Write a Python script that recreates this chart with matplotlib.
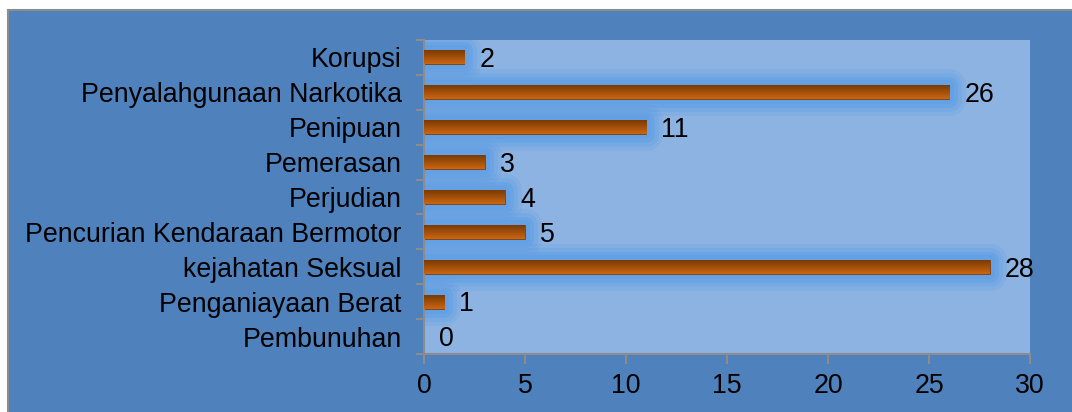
import numpy as np
import matplotlib
matplotlib.use('Agg')
from matplotlib import pyplot as plt
from matplotlib.patches import Rectangle

categories = ['Pembunuhan', 'Penganiayaan Berat', 'kejahatan Seksual',
              'Pencurian Kendaraan Bermotor', 'Perjudian', 'Pemerasan',
              'Penipuan', 'Penyalahgunaan Narkotika', 'Korupsi']
values = [0, 1, 28, 5, 4, 3, 11, 26, 2]
xticks = [0, 5, 10, 15, 20, 25, 30]

plt.rcParams['font.family'] = ['Liberation Sans', 'DejaVu Sans']
fs = 19.3

W, H = 1072, 412
fig = plt.figure(figsize=(W / 100, H / 100), dpi=100)
fig.patch.set_facecolor('white')

# outer blue panel with grey border (runs off right and bottom)
fig.patches.append(Rectangle((8 / W, -0.1), 1.2, 0.1 + (H - 10) / H, transform=fig.transFigure,
                             facecolor='#4F81BD', edgecolor='#8C8C8C', linewidth=1.5,
                             zorder=-10))

ax = fig.add_axes([424 / W, (H - 354) / H, (1030 - 424) / W, (354 - 40) / H])
ax.set_facecolor('#8DB3E2')

y = np.arange(len(categories))
vals = np.array(values)
bh = 0.4

# glow behind bars
nz = vals > 0
for lw, a in [(24, 0.2), (18, 0.3), (12, 0.45), (7, 0.6)]:
    ax.barh(y[nz], vals[nz], height=bh, color='none', edgecolor='#5E9EE5', linewidth=lw,
            alpha=a, joinstyle='round', zorder=1)

bars = ax.barh(y, vals, height=bh, color='#A04A08', edgecolor='#7F3F10',
               linewidth=0.6, zorder=2)

grad = np.linspace(0, 1, 64).reshape(-1, 1)
cmap = matplotlib.colors.LinearSegmentedColormap.from_list('g', ['#CC6612', '#7A3A04'])
for b in bars:
    if b.get_width() <= 0:
        b.set_visible(False)
        continue
    x0, y0 = b.get_x(), b.get_y()
    im = ax.imshow(grad, cmap=cmap, aspect='auto', origin='lower',
                   extent=[x0, x0 + b.get_width(), y0, y0 + b.get_height()], zorder=3)
    im.set_clip_path(b)

for yi, v in zip(y, values):
    ax.annotate(str(v), (v, yi), xytext=(11, -2), textcoords='offset points',
                ha='left', va='center', fontsize=fs, color='black', zorder=5)

ax.set_xlim(0, 30)
ax.set_ylim(-0.5, len(categories) - 0.5)
ax.set_xticks(xticks)
ax.set_yticks(y)
ax.set_yticklabels(categories)
ax.set_yticks(np.arange(-0.5, len(categories), 1), minor=True)
ax.tick_params(axis='y', which='major', length=0, pad=16, labelsize=fs)
ax.tick_params(axis='y', which='minor', length=6, width=1.5, color='#8C8C8C')
ax.tick_params(axis='x', length=7, width=1.5, color='#8C8C8C', pad=7, labelsize=fs)

for s in ['top', 'right']:
    ax.spines[s].set_visible(False)
for s in ['left', 'bottom']:
    ax.spines[s].set_color('#8C8C8C')
    ax.spines[s].set_linewidth(1.5)

fig.savefig('out.png', dpi=100)
